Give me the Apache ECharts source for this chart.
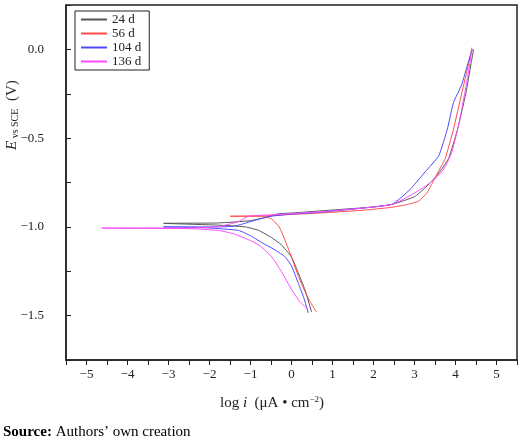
<!DOCTYPE html>
<html><head><meta charset="utf-8">
<script src="https://cdn.jsdelivr.net/npm/echarts@6/dist/echarts.min.js"></script>
<style>html,body{margin:0;padding:0;background:#fff}#c{width:520px;height:446px}</style>
</head><body><div id="c"></div>
<script>
const seriesNames = ['24 d', '56 d', '104 d', '136 d'];
const seriesColors = ['#555555', '#ff4a4a', '#4a4aff', '#ff4aff'];
const d24 = [[0.49,-1.48],[0.33,-1.356],[0.15,-1.25],[0,-1.17],[-0.25,-1.1],[-0.49,-1.06],[-0.8,-1.02],[-1.13,-1.0],[-1.8,-0.99],[-3.12,-0.98],[-1.8,-0.978],[-1.0,-0.965],[-0.6,-0.945],[-0.32,-0.926],[0,-0.922],[1,-0.905],[2,-0.888],[2.44,-0.874],[3.0,-0.83],[3.26,-0.78],[3.55,-0.71],[3.83,-0.615],[4.05,-0.45],[4.25,-0.25],[4.38,-0.08],[4.44,0.0]];
const d56 = [[0.61,-1.48],[0.45,-1.42],[0.3,-1.35],[0.17,-1.28],[0,-1.17],[-0.15,-1.08],[-0.3,-1.0],[-0.48,-0.957],[-0.66,-0.94],[-1.5,-0.94],[-0.66,-0.938],[0,-0.93],[0.82,-0.92],[1.8,-0.905],[2.44,-0.89],[2.8,-0.875],[3.1,-0.855],[3.3,-0.81],[3.42,-0.76],[3.6,-0.68],[3.75,-0.615],[3.95,-0.45],[4.15,-0.25],[4.32,-0.08],[4.4,0.01]];
const d104 = [[0.41,-1.485],[0.3,-1.4],[0.17,-1.32],[0,-1.22],[-0.15,-1.17],[-0.4,-1.13],[-0.64,-1.1],[-1.0,-1.05],[-1.29,-1.02],[-2.02,-1.006],[-3.12,-1.0],[-2.0,-1.0],[-1.5,-0.998],[-1.29,-0.99],[-0.8,-0.957],[-0.5,-0.94],[0,-0.928],[0.58,-0.92],[1.5,-0.9],[2.44,-0.874],[2.7,-0.83],[2.93,-0.78],[3.26,-0.69],[3.59,-0.6],[3.8,-0.45],[3.95,-0.3],[4.15,-0.2],[4.3,-0.08],[4.41,0.0]];
const d136 = [[0.41,-1.467],[0.2,-1.42],[0.01,-1.356],[-0.25,-1.25],[-0.48,-1.17],[-0.75,-1.11],[-0.97,-1.08],[-1.4,-1.04],[-1.78,-1.02],[-2.5,-1.01],[-4.63,-1.007],[-2.5,-1.006],[-1.8,-1.0],[-1.29,-0.97],[-1.05,-0.94],[-0.32,-0.93],[1,-0.91],[2.44,-0.874],[3.0,-0.81],[3.42,-0.745],[3.7,-0.68],[3.91,-0.58],[4.1,-0.4],[4.3,-0.15],[4.4,0.0]];
const allData = [d24, d56, d104, d136];
const F = '"Liberation Serif","DejaVu Serif",serif';
const chart = echarts.init(document.getElementById('c'));
chart.setOption({
  animation:false,
  textStyle:{fontFamily:F},
  grid:{left:66,right:3,top:5,bottom:86},
  legend:{left:75,top:11,orient:'vertical',itemWidth:26,itemHeight:2,itemGap:1,
    icon:'rect',borderColor:'#222',borderWidth:1,padding:[2,8,2,6],
    textStyle:{fontFamily:F,fontSize:13,color:'#222',lineHeight:13},data:seriesNames},
  xAxis:{type:'value',min:-5.5,max:5.5,interval:0.5,
    axisLine:{onZero:false,lineStyle:{color:'#222',width:1.5}},splitLine:{show:false},
    axisTick:{inside:false,length:5,lineStyle:{color:'#222'}},
    axisLabel:{fontSize:13,color:'#222',fontFamily:F,formatter:v=>Number.isInteger(v)?(v<0?'−'+(-v):String(v)):''}},
  yAxis:{type:'value',min:-1.75,max:0.25,interval:0.25,
    axisLine:{onZero:false,lineStyle:{color:'#222',width:1.5}},splitLine:{show:false},
    axisTick:{inside:true,length:5,lineStyle:{color:'#222'}},
    axisLabel:{fontSize:13,color:'#222',fontFamily:F,margin:22,
      formatter:v=>(Math.abs(v*2-Math.round(v*2))<1e-9 && v<0.1 && v>-1.6)?(v<0?'−'+(-v).toFixed(1):v.toFixed(1)):''}},
  graphic:[
    {type:'rect',shape:{x:66,y:5,width:451,height:355},style:{fill:'none',stroke:'#222',lineWidth:1.5},silent:true},
    {type:'text',x:4,y:150,rotation:Math.PI/2,originX:0,originY:0,style:{text:'{i|E}{s| vs SCE}  (V)',fontFamily:F,fontSize:15,fill:'#222',
      rich:{i:{fontStyle:'italic',fontSize:15,fontFamily:F},s:{fontSize:10,fontFamily:F,padding:[6,0,0,0]}}}},
    {type:'text',x:220,y:395,style:{text:'log {i|i}  (μA • cm{s|−2})',fontFamily:F,fontSize:15,fill:'#222',
      rich:{i:{fontStyle:'italic',fontSize:15,fontFamily:F},s:{fontSize:9,fontFamily:F,padding:[0,0,8,0]}}}},
    {type:'text',x:3,y:425,style:{text:'{b|Source:} Authors’ own creation',fontFamily:F,fontSize:15,fill:'#000',
      rich:{b:{fontWeight:'bold',fontSize:15,fontFamily:F}}}}
  ],
  series: allData.map((d,i)=>({name:seriesNames[i],type:'line',data:d,showSymbol:false,smooth:0.15,
    lineStyle:{width:1,color:seriesColors[i]},itemStyle:{color:seriesColors[i]}}))
});
</script></body></html>
